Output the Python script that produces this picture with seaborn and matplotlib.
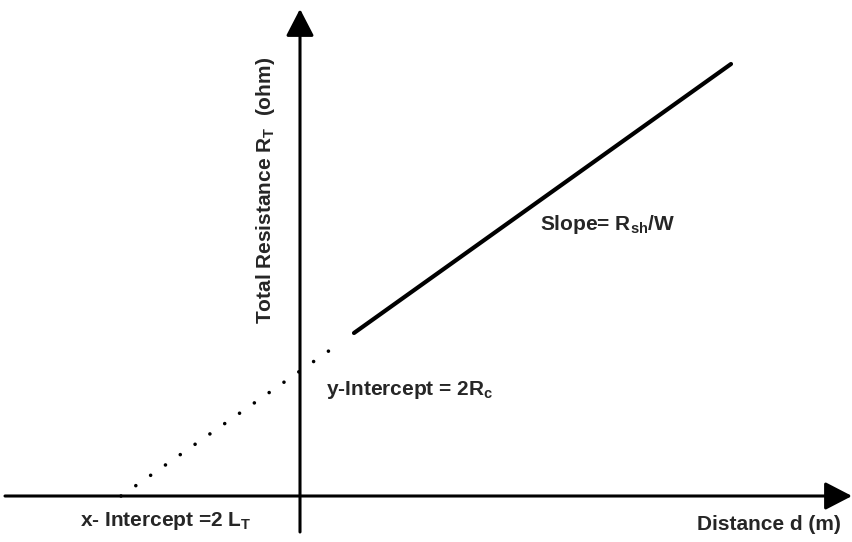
import matplotlib
matplotlib.use("Agg")
import matplotlib.pyplot as plt
import seaborn as sns

# ---- data (arbitrary units) ----
d_fit = [0.54, 4.31]        # measured region (solid)
R_fit = [1.63, 4.32]
d_ext = [-1.79, 0.43]       # extrapolation (dotted)
R_ext = [0.00, 1.55]

x_label = "Distance d (m)"
y_label = r"Total Resistance R$_\mathregular{T}$  (ohm)"
slope_label = r"Slope= R$_\mathregular{sh}$/W"
yint_label = r"y-Intercept = 2R$_\mathregular{c}$"
xint_label = r"x- Intercept =2 L$_\mathregular{T}$"

sns.set_style("white")
plt.rcParams["font.family"] = ["Liberation Sans", "DejaVu Sans"]
plt.rcParams["font.weight"] = "bold"
plt.rcParams["mathtext.default"] = "regular"
plt.rcParams["lines.scale_dashes"] = False

fig = plt.figure(figsize=(8.53, 5.42), dpi=100)
ax = fig.add_axes([0, 0, 1, 1])
ax.set_xlim(-3.0, 5.53)
ax.set_ylim(-0.46, 4.96)
ax.axis("off")

# axes arrows
arrow = dict(arrowstyle="-|>,head_length=0.83,head_width=0.43", lw=2.2,
             color="black", mutation_scale=20, shrinkA=0, shrinkB=0)
ax.annotate("", xy=(5.52, 0), xytext=(-2.95, 0), arrowprops=arrow)
ax.annotate("", xy=(0, 4.87), xytext=(0, -0.36), arrowprops=arrow)

sns.lineplot(x=d_fit, y=R_fit, ax=ax, color="black", lw=3.0,
             solid_capstyle="round")
sns.lineplot(x=d_ext, y=R_ext, ax=ax, color="black", lw=2.6,
             linestyle=(0, (0.01, 13.0)), dash_capstyle="round")

fs = 15
ax.text(-0.34, 3.06, y_label, rotation=90, ha="center", va="center",
        fontsize=fs, fontweight="bold")
ax.text(2.40, 2.71, slope_label, ha="left", va="center", fontsize=fs,
        fontweight="bold")
ax.text(0.26, 1.06, yint_label, ha="left", va="center", fontsize=fs,
        fontweight="bold")
ax.text(-2.20, -0.25, xint_label, ha="left", va="center", fontsize=fs,
        fontweight="bold")
ax.text(3.97, -0.28, x_label, ha="left", va="center", fontsize=fs,
        fontweight="bold")

fig.savefig("out.png", dpi=100)
